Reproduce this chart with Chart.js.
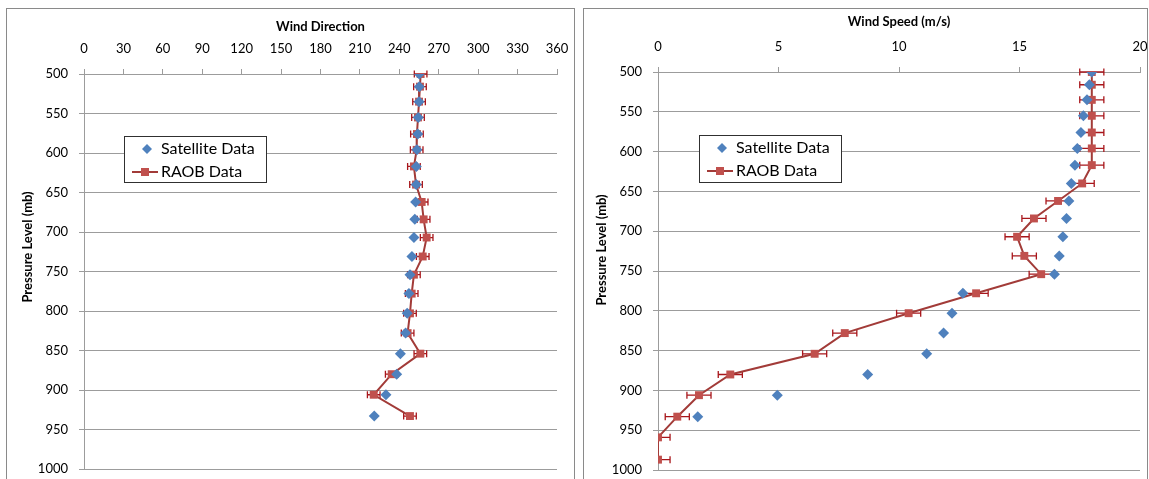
<!DOCTYPE html>
<html>
<head>
<meta charset="utf-8">
<script src="https://cdn.jsdelivr.net/npm/chart.js@4.4.1/dist/chart.umd.min.js"></script>
<style>
  html, body { margin: 0; padding: 0; background: #fff; width: 1149px; height: 479px; overflow: hidden; }
  .panel { position: absolute; border: 1px solid #8a8a8a; background: #fff; }
  #p1 { left: 6px; top: 8px; width: 567px; height: 480px; }
  #p2 { left: 583px; top: 8px; width: 563px; height: 480px; }
  canvas { position: absolute; left: 0; top: 0; }
</style>
</head>
<body>
<div class="panel" id="p1"><canvas id="dirChart" width="567" height="470"></canvas></div>
<div class="panel" id="p2"><canvas id="spdChart" width="563" height="470"></canvas></div>
<script>
// Sounding levels (mb), shared by both profiles
const pressureLevels = [500, 516, 535, 555, 576, 596, 617, 640, 662, 684, 707,
                        731, 754, 778, 803, 828, 854, 880, 906, 933, 959, 987];

// Wind direction (degrees)
const satDirection  = [255.2, 255.2, 255.0, 254.4, 254.0, 253.4, 252.9, 252.9, 252.4, 251.8,
                       251.1, 249.6, 248.1, 247.3, 246.0, 244.8, 240.8, 238.0, 229.8, 220.9];
const raobDirection = [256.2, 255.7, 255.0, 254.2, 253.4, 253.2, 251.1, 252.7, 257.0, 258.5,
                       260.8, 257.8, 251.1, 249.4, 248.1, 246.3, 256.0, 234.2, 220.5, 248.1];
const raobDirectionErr = [4.8, 4.8, 4.8, 4.8, 4.8, 4.8, 4.8, 4.8, 4.8, 4.8,
                          4.8, 4.8, 4.8, 4.8, 4.8, 4.8, 4.8, 4.8, 4.8, 4.8];

// Wind speed (m/s)
const satSpeed  = [18.0, 17.9, 17.8, 17.65, 17.55, 17.4, 17.3, 17.15, 17.05, 16.95,
                   16.8, 16.65, 16.45, 12.65, 12.2, 11.85, 11.15, 8.7, 4.95, 1.65];
const raobSpeed = [18.0, 18.0, 18.0, 18.0, 18.0, 18.0, 18.0, 17.6, 16.6, 15.6, 14.9,
                   15.2, 15.9, 13.2, 10.4, 7.75, 6.5, 3.0, 1.7, 0.8, 0.0, 0.0];
const raobSpeedErr = [0.5, 0.5, 0.5, 0.5, 0.5, 0.5, 0.5, 0.5, 0.5, 0.5, 0.5,
                      0.5, 0.5, 0.5, 0.5, 0.5, 0.5, 0.5, 0.5, 0.5, 0.5, 0.5];

// Axis tick labels
const directionTicks = [0, 30, 60, 90, 120, 150, 180, 210, 240, 270, 300, 330, 360];
const speedTicks     = [0, 5, 10, 15, 20];
const pressureTicks  = [500, 550, 600, 650, 700, 750, 800, 850, 900, 950, 1000];

const seriesNames = ['Satellite Data', 'RAOB Data'];
const pressureTitle = 'Pressure Level (mb)';

const FONT = 'Lato, "Open Sans", sans-serif';
const SAT_COLOR = '#4F81BD';
const RAOB_FILL = '#C0504D';
const RAOB_LINE = '#A23B38';
const ERR_COLOR = '#A8161B';
const GRID_COLOR = '#9c9c9c';

function pairs(values) {
  return values.map((v, i) => ({ x: v, y: pressureLevels[i] }));
}

// Horizontal error bars with end caps, drawn beneath the markers
const errorBars = {
  id: 'errorBars',
  beforeDatasetsDraw(chart) {
    const { ctx, chartArea: a, scales } = chart;
    ctx.save();
    ctx.beginPath();
    ctx.rect(a.left, a.top - 6, a.right - a.left, a.bottom - a.top + 12);
    ctx.clip();
    ctx.strokeStyle = ERR_COLOR;
    ctx.lineWidth = 1.3;
    chart.data.datasets.forEach(ds => {
      if (!ds.errors) return;
      ds.data.forEach((p, i) => {
        const e = ds.errors[i];
        const x0 = scales.x.getPixelForValue(p.x - e);
        const x1 = scales.x.getPixelForValue(p.x + e);
        const y = scales.y.getPixelForValue(p.y);
        ctx.beginPath();
        ctx.moveTo(x0, y); ctx.lineTo(x1, y);
        ctx.moveTo(x0, y - 3.5); ctx.lineTo(x0, y + 3.5);
        ctx.moveTo(x1, y - 3.5); ctx.lineTo(x1, y + 3.5);
        ctx.stroke();
      });
    });
    ctx.restore();
  }
};

// Boxed legend placed inside the plot
const boxLegend = {
  id: 'boxLegend',
  afterDraw(chart, args, o) {
    const ctx = chart.ctx;
    const sat = chart.data.datasets[0], raob = chart.data.datasets[1];
    ctx.save();
    ctx.fillStyle = '#fff';
    ctx.fillRect(o.x, o.y, o.w, o.h);
    ctx.strokeStyle = '#303030';
    ctx.lineWidth = 1;
    ctx.strokeRect(o.x + 0.5, o.y + 0.5, o.w - 1, o.h - 1);
    const r1 = o.y + 13, r2 = o.y + 36, mx = o.x + 21;
    Chart.helpers.drawPoint(ctx, { pointStyle: 'rectRot', radius: 5, borderWidth: 0 }, mx + 2, r1);
    ctx.fillStyle = sat.backgroundColor;
    ctx.fill();
    ctx.strokeStyle = raob.borderColor;
    ctx.lineWidth = 2;
    ctx.beginPath(); ctx.moveTo(o.x + 8, r2); ctx.lineTo(o.x + 34, r2); ctx.stroke();
    ctx.fillStyle = raob.pointBackgroundColor;
    ctx.fillRect(mx - 4, r2 - 4, 8, 8);
    ctx.fillStyle = '#000';
    ctx.font = '16px ' + FONT;
    ctx.textBaseline = 'middle';
    ctx.textAlign = 'left';
    ctx.fillText(sat.label, o.x + 37, r1);
    ctx.fillText(raob.label, o.x + 37, r2);
    ctx.restore();
  }
};

// Rotated title for the pressure axis
const sideTitle = {
  id: 'sideTitle',
  afterDraw(chart, args, o) {
    const ctx = chart.ctx;
    ctx.save();
    ctx.translate(o.x, o.y);
    ctx.rotate(-Math.PI / 2);
    ctx.font = 'bold 13px ' + FONT;
    ctx.fillStyle = '#000';
    ctx.textAlign = 'center';
    ctx.textBaseline = 'middle';
    ctx.fillText(o.text, 0, 0);
    ctx.restore();
  }
};

function makeChart(id, cfg) {
  const datasets = [
    {
      label: seriesNames[0],
      data: pairs(cfg.sat),
      showLine: false,
      pointStyle: 'rectRot',
      pointRadius: 5.5,
      pointHoverRadius: 5.5,
      pointBorderWidth: 0,
      backgroundColor: SAT_COLOR,
      borderColor: SAT_COLOR
    },
    {
      label: seriesNames[1],
      data: pairs(cfg.raob),
      errors: cfg.err,
      showLine: true,
      borderColor: RAOB_LINE,
      borderWidth: 2,
      pointStyle: 'rect',
      pointRadius: 5.6,
      pointHoverRadius: 5.6,
      pointBorderWidth: 0,
      pointBackgroundColor: RAOB_FILL,
      pointBorderColor: RAOB_FILL,
      backgroundColor: RAOB_FILL
    }
  ];
  return new Chart(document.getElementById(id), {
    type: 'scatter',
    data: { datasets },
    plugins: [errorBars, boxLegend, sideTitle],
    options: {
      responsive: false,
      animation: false,
      devicePixelRatio: 1,
      layout: { padding: cfg.padding },
      plugins: {
        legend: { display: false },
        tooltip: { enabled: false },
        boxLegend: cfg.legend,
        sideTitle: cfg.sideTitle
      },
      scales: {
        x: {
          type: 'linear',
          position: 'top',
          min: cfg.xMin, max: cfg.xMax,
          afterBuildTicks: s => { s.ticks = cfg.xTicks.map(v => ({ value: v })); },
          afterFit: s => {
            s.height = cfg.xAxisHeight;
            s.paddingLeft = 0; s.paddingRight = 0;
          },
          grid: { drawOnChartArea: false, drawTicks: true, tickLength: 5, color: GRID_COLOR },
          border: { color: GRID_COLOR, width: 1 },
          ticks: {
            padding: 12, color: '#000', font: { family: FONT, size: 13 }, maxRotation: 0,
            callback: v => String(v)
          },
          title: {
            display: true, text: cfg.title, color: '#000',
            font: { family: FONT, size: 13, weight: 'bold' },
            padding: { top: cfg.titleTop, bottom: 0 }
          }
        },
        y: {
          type: 'linear',
          position: 'left',
          reverse: true,
          min: 500, max: 1000,
          afterBuildTicks: s => { s.ticks = pressureTicks.map(v => ({ value: v })); },
          afterFit: s => {
            s.width = cfg.yAxisWidth;
            s.paddingTop = 0; s.paddingBottom = 0;
          },
          grid: { drawOnChartArea: true, drawTicks: true, tickLength: 5, color: GRID_COLOR },
          border: { color: GRID_COLOR, width: 1 },
          ticks: {
            padding: 11, color: '#000', font: { family: FONT, size: 13 },
            callback: v => String(v)
          }
        }
      }
    }
  });
}

makeChart('dirChart', {
  sat: satDirection, raob: raobDirection, err: raobDirectionErr,
  xMin: 0, xMax: 360, xTicks: directionTicks,
  title: 'Wind Direction', titleTop: 10,
  xAxisHeight: 65, yAxisWidth: 77,
  padding: { left: 0, top: 0, right: 17, bottom: 10 },
  legend: { x: 117, y: 127, w: 143, h: 47 },
  sideTitle: { x: 21, y: 238, text: pressureTitle }
});

makeChart('spdChart', {
  sat: satSpeed, raob: raobSpeed, err: raobSpeedErr,
  xMin: 0, xMax: 20, xTicks: speedTicks,
  title: 'Wind Speed (m/s)', titleTop: 5,
  xAxisHeight: 63, yAxisWidth: 74,
  padding: { left: 0, top: 0, right: 7, bottom: 9 },
  legend: { x: 115, y: 126, w: 143, h: 48 },
  sideTitle: { x: 18, y: 241, text: pressureTitle }
});
</script>
</body>
</html>
